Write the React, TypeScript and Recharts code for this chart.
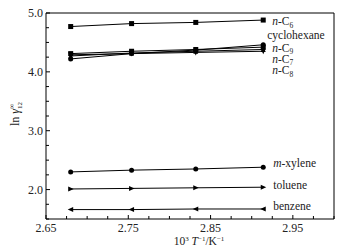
import React from 'react';
import { LineChart, Line, XAxis, YAxis, ReferenceLine, LabelList } from 'recharts';

// 10^3 / T for 373.15, 363.15, 353.15, 343.15 K
const invT = [2.68, 2.754, 2.832, 2.914];

const nC6 = [4.77, 4.82, 4.84, 4.88];
const cyclohexane = [4.31, 4.35, 4.38, 4.42];
const nC9 = [4.22, 4.31, 4.37, 4.46];
const nC7 = [4.27, 4.32, 4.35, 4.38];
const nC8 = [4.29, 4.31, 4.33, 4.35];
const mXylene = [2.3, 2.33, 2.35, 2.38];
const toluene = [2.01, 2.02, 2.03, 2.04];
const benzene = [1.66, 1.66, 1.67, 1.67];

const xTicks = [2.65, 2.675, 2.7, 2.725, 2.75, 2.775, 2.8, 2.825, 2.85, 2.875, 2.9, 2.925, 2.95, 2.975, 3.0];
const xLabels = [2.65, 2.75, 2.85, 2.95];
const yTicks = [1.5, 1.75, 2.0, 2.25, 2.5, 2.75, 3.0, 3.25, 3.5, 3.75, 4.0, 4.25, 4.5, 4.75, 5.0];
const yLabels = [2.0, 3.0, 4.0, 5.0];

const serif = { fontFamily: "'Liberation Serif', 'Times New Roman', 'DejaVu Serif', serif" };

type Shape = 'square' | 'circle' | 'up' | 'down' | 'right' | 'left';

const sub = (t: string) => <tspan fontSize={7.5} dy={2.5}>{t}</tspan>;

const series: { key: string; values: number[]; shape: Shape; label: React.ReactNode; dx: number; dy: number }[] = [
  { key: 'nC6', values: nC6, shape: 'square', dx: 9, dy: 1,
    label: <><tspan fontStyle="italic">n</tspan>-C{sub('6')}</> },
  { key: 'cyclohexane', values: cyclohexane, shape: 'square', dx: 4, dy: -12, label: 'cyclohexane' },
  { key: 'nC9', values: nC9, shape: 'circle', dx: 9, dy: 3,
    label: <><tspan fontStyle="italic">n</tspan>-C{sub('9')}</> },
  { key: 'nC7', values: nC7, shape: 'up', dx: 9, dy: 9.5,
    label: <><tspan fontStyle="italic">n</tspan>-C{sub('7')}</> },
  { key: 'nC8', values: nC8, shape: 'down', dx: 9, dy: 19,
    label: <><tspan fontStyle="italic">n</tspan>-C{sub('8')}</> },
  { key: 'mXylene', values: mXylene, shape: 'circle', dx: 10, dy: -4,
    label: <><tspan fontStyle="italic">m</tspan>-xylene</> },
  { key: 'toluene', values: toluene, shape: 'right', dx: 10, dy: -2, label: 'toluene' },
  { key: 'benzene', values: benzene, shape: 'left', dx: 10, dy: -3, label: 'benzene' },
];

const data = invT.map((x, i) => {
  const row: Record<string, number> = { x };
  series.forEach((s) => { row[s.key] = s.values[i]; });
  return row;
});

function makeDot(shape: Shape) {
  return (p: { cx?: number; cy?: number; index?: number }) => {
    const { cx = 0, cy = 0, index } = p;
    const r = 2.5;
    const k = `d${index}`;
    if (shape === 'square') return <rect key={k} x={cx - r} y={cy - r} width={2 * r} height={2 * r} fill="#000" />;
    if (shape === 'circle') return <circle key={k} cx={cx} cy={cy} r={r} fill="#000" />;
    let pts = '';
    if (shape === 'up') pts = `${cx},${cy - r - 0.5} ${cx - r},${cy + r} ${cx + r},${cy + r}`;
    if (shape === 'down') pts = `${cx},${cy + r + 0.5} ${cx - r},${cy - r} ${cx + r},${cy - r}`;
    if (shape === 'right') pts = `${cx + r + 0.5},${cy} ${cx - r},${cy - r} ${cx - r},${cy + r}`;
    if (shape === 'left') pts = `${cx - r - 0.5},${cy} ${cx + r},${cy - r} ${cx + r},${cy + r}`;
    return <polygon key={k} points={pts} fill="#000" />;
  };
}

function XTick({ x, y, payload }: { x?: number; y?: number; payload?: { value: number } }) {
  const v = payload?.value ?? 0;
  const major = xLabels.some((l) => Math.abs(l - v) < 1e-6);
  return (
    <g>
      <line x1={x} x2={x} y1={y} y2={(y ?? 0) - (major ? 4 : 3)} stroke="#000" />
      {major && (
        <text x={x} y={(y ?? 0) + 13} textAnchor="middle" fontSize={12} style={serif} fill="#222">
          {v.toFixed(2)}
        </text>
      )}
    </g>
  );
}

function YTick({ x, y, payload }: { x?: number; y?: number; payload?: { value: number } }) {
  const v = payload?.value ?? 0;
  const major = yLabels.some((l) => Math.abs(l - v) < 1e-6);
  return (
    <g>
      <line x1={x} x2={(x ?? 0) + (major ? 4 : 3)} y1={y} y2={y} stroke="#000" />
      {major && (
        <text x={(x ?? 0) - 3} y={y} dy={4} textAnchor="end" fontSize={12} style={serif} fill="#222">
          {v.toFixed(1)}
        </text>
      )}
    </g>
  );
}

export default function App() {
  return (
    <div style={{ width: 350, height: 252, background: '#fff', position: 'relative' }}>
      <style>{'body{margin:0}'}</style>
      <LineChart width={350} height={252} data={data} margin={{ top: 13, right: 16, bottom: 0, left: 0 }}>
        <XAxis dataKey="x" type="number" domain={[2.65, 3.0]} ticks={xTicks} interval={0}
          tickSize={0} tickMargin={0} tick={<XTick />} height={33}
          axisLine={{ stroke: '#000' }} allowDataOverflow />
        <YAxis type="number" domain={[1.5, 5.0]} ticks={yTicks} interval={0}
          tickSize={0} tickMargin={0} tick={<YTick />} width={46}
          axisLine={{ stroke: '#000' }} allowDataOverflow />
        <ReferenceLine y={5.0} stroke="#000" />
        <ReferenceLine x={3.0} stroke="#000" />
        {series.map((s) => (
          <Line key={s.key} dataKey={s.key} stroke="#000" strokeWidth={1}
            dot={makeDot(s.shape)} activeDot={false} isAnimationActive={false}>
            <LabelList dataKey={s.key} content={(p: any) => (
              p.index === invT.length - 1 ? (
                <text x={Number(p.x) + s.dx} y={Number(p.y) + s.dy} dy={4} fontSize={11.5}
                  style={serif} fill="#222">{s.label}</text>
              ) : null
            )} />
          </Line>
        ))}
      </LineChart>
      <div style={{ position: 'absolute', left: 0, top: 0, pointerEvents: 'none' }}>
        <svg width={350} height={252}>
          <text transform="translate(19,114) rotate(-90)" textAnchor="middle" fontSize={12} style={serif} fill="#222">
            ln <tspan fontStyle="italic">γ</tspan><tspan fontSize={7} dy={3}>12</tspan><tspan fontSize={7} dy={-8} dx={-7}>∞</tspan>
          </text>
          <text x={199} y={245} textAnchor="middle" fontSize={11.5} style={serif} fill="#222">
            10<tspan fontSize={7} dy={-4}>3</tspan><tspan dy={4} fontStyle="italic"> T</tspan><tspan fontSize={7} dy={-4}>−1</tspan><tspan dy={4}>/K</tspan><tspan fontSize={7} dy={-4}>−1</tspan>
          </text>
        </svg>
      </div>
    </div>
  );
}
